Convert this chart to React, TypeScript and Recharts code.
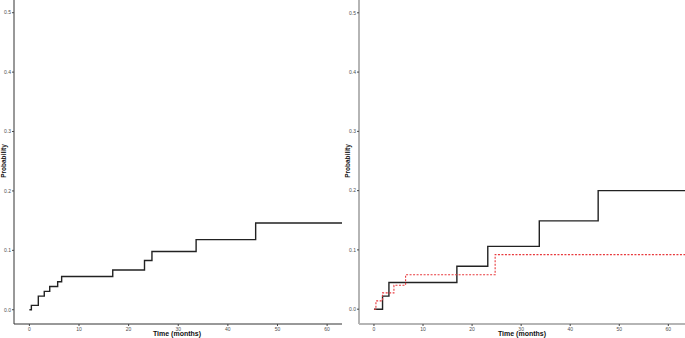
import { LineChart, Line, XAxis, YAxis } from "recharts";

// cumulative incidence
const leftTimes = [0, 0.4, 1.8, 3.0, 4.1, 5.7, 6.5, 16.8, 23.2, 24.7, 33.6, 45.6, 63];
const leftProb = [0, 0.0074, 0.023, 0.031, 0.039, 0.047, 0.056, 0.067, 0.083, 0.098, 0.118, 0.146, 0.146];

const blackTimes = [0, 1.75, 3.05, 16.9, 23.2, 33.7, 45.7, 63.4];
const blackProb = [0, 0.022, 0.045, 0.0725, 0.106, 0.149, 0.2, 0.2];

const redTimes = [0, 0.4, 1.75, 4.07, 6.45, 24.7, 63.4];
const redProb = [0, 0.014, 0.0275, 0.0405, 0.058, 0.092, 0.092];

const xTicks = [0, 10, 20, 30, 40, 50, 60];
const yTicks = [0, 0.1, 0.2, 0.3, 0.4, 0.5];

const FONT = "'Liberation Sans', Arial, sans-serif";
const LINE_BLACK = "#222222";
const LINE_RED = "#e8393d";

const toRows = (t: number[], p: number[]) => t.map((x, i) => ({ t: x, p: p[i] }));

function AxisTitles({ yx, xx, width }: { yx: number; xx: number; width: number }) {
  const common = {
    fontWeight: "bold",
    fontFamily: FONT,
    fill: "#111",
  };
  return (
    <svg
      width={width}
      height={338}
      style={{ position: "absolute", left: 0, top: 0, pointerEvents: "none" }}
    >
      <text
        x={yx}
        y={161}
        transform={`rotate(-90 ${yx} 161)`}
        textAnchor="middle"
        dominantBaseline="central"
        fontSize={6.5}
        {...common}
      >
        Probability
      </text>
      <text x={xx} y={336} textAnchor="middle" fontSize={7} {...common}>
        Time (months)
      </text>
    </svg>
  );
}

function Panel({
  width,
  yWidth,
  xDomain,
  yDomain,
  axisColor,
  axisWidth,
  series,
  labelX,
  titleX,
}: {
  width: number;
  yWidth: number;
  xDomain: [number, number];
  yDomain: [number, number];
  axisColor: string;
  axisWidth: number;
  series: { rows: { t: number; p: number }[]; color: string; dash?: string; w: number }[];
  labelX: number;
  titleX: number;
}) {
  const tickStyle = { fontSize: 5, fill: "#4d4d4d", fontFamily: FONT };
  return (
    <div style={{ position: "relative", width, height: 338 }}>
      <LineChart width={width} height={338} margin={{ top: 0, right: 0, left: 0, bottom: 0 }}>
        <XAxis
          type="number"
          dataKey="t"
          domain={xDomain}
          ticks={xTicks}
          allowDataOverflow
          height={14}
          tickSize={2}
          tickMargin={1}
          tick={tickStyle}
          axisLine={{ stroke: axisColor, strokeWidth: axisWidth }}
          tickLine={{ stroke: "#444" }}
        />
        <YAxis
          type="number"
          domain={yDomain}
          ticks={yTicks}
          allowDataOverflow
          width={yWidth}
          tickSize={2}
          tickMargin={1}
          tick={tickStyle}
          tickFormatter={(v: number) => v.toFixed(1)}
          axisLine={{ stroke: axisColor, strokeWidth: axisWidth }}
          tickLine={{ stroke: "#444" }}
        />
        {series.map((s, i) => (
          <Line
            key={i}
            data={s.rows}
            dataKey="p"
            type="stepAfter"
            stroke={s.color}
            strokeWidth={s.w}
            strokeDasharray={s.dash}
            dot={false}
            activeDot={false}
            isAnimationActive={false}
          />
        ))}
      </LineChart>
      <AxisTitles yx={labelX} xx={titleX} width={width} />
    </div>
  );
}

export default function App() {
  return (
    <div
      style={{
        position: "absolute",
        left: 0,
        top: 0,
        width: 685,
        height: 338,
        background: "#fff",
        display: "flex",
      }}
    >
      <Panel
        width={342}
        yWidth={14}
        xDomain={[-3.1, 63]}
        yDomain={[-0.024, 0.5214]}
        axisColor="#333"
        axisWidth={1}
        labelX={3}
        titleX={177}
        series={[{ rows: toRows(leftTimes, leftProb), color: LINE_BLACK, w: 1.4 }]}
      />
      <Panel
        width={343}
        yWidth={17}
        xDomain={[-3.05, 63.4]}
        yDomain={[-0.025, 0.5216]}
        axisColor="#b5b5b5"
        axisWidth={2}
        labelX={5}
        titleX={180}
        series={[
          { rows: toRows(blackTimes, blackProb), color: LINE_BLACK, w: 1.4 },
          { rows: toRows(redTimes, redProb), color: LINE_RED, w: 1.1, dash: "2 1.5" },
        ]}
      />
    </div>
  );
}
